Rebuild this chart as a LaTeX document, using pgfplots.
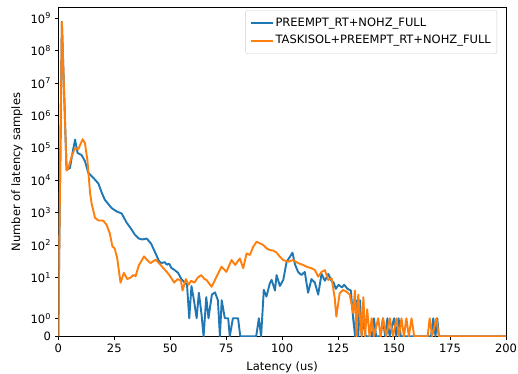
\documentclass[border=0pt]{standalone}
\usepackage{fontspec}
\setmainfont{DejaVu Sans}
\usepackage{pgfplots}
\pgfplotsset{compat=1.18}
\definecolor{tabblue}{HTML}{1F77B4}
\definecolor{taborange}{HTML}{FF7F0E}
\begin{document}
\fontsize{11.5}{13.8}\selectfont
\begin{tikzpicture}
\begin{axis}[
  scale only axis,
  width=447.7pt, height=328.6pt,
  xmin=0, xmax=200,
  ymin=0, ymax=2.1e9,
  y coord trafo/.code={\begingroup\pgfkeys{/pgf/fpu=true,/pgf/fpu/output format=fixed}\pgfmathparse{#1<=2 ? #1*0.555556 : 1.111111+log10(max(#1,2)/2)}\pgfmathsmuggle\pgfmathresult\endgroup},
  ytick={0,1,10,100,1000,10000,100000,1000000,10000000,100000000,1000000000},
  yticklabels={0,10\textsuperscript{0},10\textsuperscript{1},10\textsuperscript{2},10\textsuperscript{3},10\textsuperscript{4},10\textsuperscript{5},10\textsuperscript{6},10\textsuperscript{7},10\textsuperscript{8},10\textsuperscript{9}},
  xtick={0,25,...,200},
  /pgf/number format/assume math mode=true,
  tick align=outside, major tick length=3.2pt,
  tick pos=left,
  tick style={black, line width=0.7pt},
  axis line style={line width=0.7pt},
  xticklabel style={inner sep=0pt, yshift=-4pt},
  yticklabel style={inner sep=0pt, xshift=-4pt},
  xlabel={Latency (us)},
  ylabel={Number of latency samples},
  every axis x label/.style={at={(axis description cs:0.5,0)}, anchor=center, yshift=-31.5pt},
  every axis y label/.style={at={(axis description cs:0,0.5)}, rotate=90, anchor=center, yshift=41.3pt},
  legend cell align=left,
  legend style={at={(0.980,0.993)}, anchor=north east, draw=black!18, rounded corners=2pt, inner xsep=4pt, inner ysep=6pt, row sep=3pt, font=\fontsize{11.5}{13.8}\selectfont},
  legend image code/.code={\draw[#1, line width=1.9pt] (0pt,0pt) -- (22pt,0pt);},
]
\addplot[tabblue, line width=1.9pt, line join=round, no markers] coordinates {
(0,0)(1.6,7.6e8)(3.7,2.1e4)(5.2,2.4e4)(6.5,8e4)(7.5,1.8e5)(8.6,7e4)(10.4,6e4)(11.9,3.9e4)(13.4,1.7e4)(15.6,1.2e4)(17.9,8e3)(19.5,4e3)(20.8,2.5e3)(23.8,1.4e3)(26,1.1e3)(28.3,9.5e2)(30.5,5e2)(32.8,3e2)(34.2,2.1e2)(36,1.6e2)(37.5,1.5e2)(39.5,1.6e2)(41.5,1.1e2)(43.5,55)(45,32)(46,28)(47.5,30)(48.5,25)(49.5,27)(50.5,20)(52,17)(53.5,14)(55,9)(56.5,7)(57.5,6)(58.5,1)(59.5,5.5)(60.6,2)(61.8,1)(62.8,3.4)(64,1.2)(64.9,0)(66.1,2.5)(67.1,1)(68.6,3)(70,3.5)(71.3,2)(72.2,0)(73,2)(74.4,1)(75.9,1)(76.6,0)(78,1)(80.3,1)(81.3,0)(88.4,0)(89.6,1)(90.6,0)(91.8,4.2)(93,2.6)(94.5,6.7)(95.3,8.5)(96.8,4)(97.5,12)(99,5.5)(100.5,8.5)(102,31)(103.5,44)(104.6,59)(105.7,26)(107.1,15)(108.6,12)(110.1,15)(111.6,3.4)(113.1,9)(114.6,7)(116.1,3)(117.6,13)(119.1,8)(120.6,13)(122,8)(123,7)(124,4.5)(125.2,6)(126.7,5)(127.7,6)(129.2,4.5)(130.7,4)(131.7,1)(132.6,0)(133.3,2)(134,0)(134.8,2)(135.5,0)(136.5,1)(137.3,0)(140,0)(141,1)(142,0)(144,0)(145,1)(146,0)(147,1)(148,0)(150,1)(151,0)(152,1)(153,0)(166.5,0)(167.5,1)(168.5,0)(169.3,1)(170,0)(200,0)
};
\addlegendentry{PREEMPT\_RT+NOHZ\_FULL}
\addplot[taborange, line width=1.9pt, line join=round, no markers] coordinates {
(0,0)(1.6,7.6e8)(3.7,2e4)(4.5,2.4e4)(6,5.5e4)(7.5,9.8e4)(8.9,9e4)(10.9,1.86e5)(11.9,1.4e5)(13,4.2e4)(14.2,4e3)(14.9,1.9e3)(16.4,7e2)(17.9,5.8e2)(20.1,5.7e2)(21.6,4.2e2)(23,2.3e2)(24.2,90)(25.2,80)(26.3,40)(27.8,7)(29.3,14)(30.8,9)(32.3,10)(33.5,12)(34.5,11)(36,24)(38.3,45)(39.7,35)(41.2,28)(43.5,36)(45.8,24)(48.1,16)(49.6,12)(51.8,7)(53.3,9)(54.8,8)(55.5,4)(57,9)(58.2,6)(59.3,8)(60.8,7)(62.3,10)(63.8,12)(65.3,9)(66.2,8.5)(68.5,5.2)(70.7,10.7)(72.9,21.7)(75.1,15)(77.4,35)(79,24.5)(81.1,39)(82.6,19.4)(84.1,55)(85.6,50)(87.1,90)(88.6,128)(90,115)(91.5,102)(93,80)(94.5,71)(96,68)(97.5,59)(99,44)(100.4,35)(102.7,31)(104.9,35)(107.1,28)(109.4,24.5)(110.9,21.7)(113.1,19.4)(114.6,17.2)(116.1,10.7)(117.6,15)(119.1,17)(120.6,8.5)(122.1,9.5)(123.5,2.3)(124.2,1.09)(125.7,3.3)(127.2,4.15)(128.7,3.7)(130.2,3)(131.7,1.3)(132.5,4)(133.2,0)(134,3)(134.8,1)(135.5,0)(136.3,2.5)(137,0)(138,1.5)(139,0)(140,1)(141,0)(142.9,1)(144,0)(145.1,1)(146.5,0)(148.1,1)(149.5,0)(151.1,1)(152.2,0)(153.3,1)(154.4,0)(155.5,1)(156.6,0)(157.8,1)(159,0)(165,0)(165.9,1)(167,0)(168.9,1)(170,0)(200,0)
};
\addlegendentry{TASKISOL+PREEMPT\_RT+NOHZ\_FULL}
\end{axis}
\pgfresetboundingbox
\useasboundingbox ([shift={(-58.3pt,-36.7pt)}]current axis.south west) rectangle ([shift={(12pt,7.7pt)}]current axis.north east);
\end{tikzpicture}
\end{document}
